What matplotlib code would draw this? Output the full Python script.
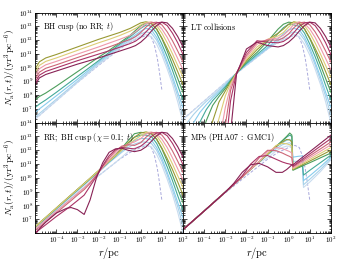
#!/usr/bin/env python3
"""Four-panel plot of N_a(r, t) for the different relaxation models."""
import numpy as np
import matplotlib
matplotlib.use("Agg")
import matplotlib.pyplot as plt
from matplotlib.ticker import LogLocator, NullFormatter

plt.rcParams['mathtext.fontset'] = 'cm'
plt.rcParams['font.family'] = 'DejaVu Serif'

# curve colours, earliest time (pale blue) -> latest time (dark red)
colours = ['#c9dcef', '#a9d2ea', '#88ccee', '#44aa99', '#4c9e5c', '#999933',
           '#ddcc77', '#ee99aa', '#cc6677', '#aa3366', '#882255']
dash_colour = '#a9a9dc'

# initial condition (dashed), log10 r/pc and log10 N_a
lr_init = [-5, -4, -3, -2, -1, -0.5, 0, 0.3, 0.5, 0.65, 0.78, 0.88, 0.95, 1.0]
n_init = [6.25, 7.58, 8.91, 10.15, 11.35, 11.85, 12.2, 12.35, 12.2, 11.6, 10.7, 9.7, 8.9, 8.35]

# panel 1: BH cusp (no RR; t)
lr_bh = [-5, -4.8, -4.5, -4, -3, -2, -1.5, -1, -0.5, -0.25, 0, 0.25, 0.5, 0.75, 1, 1.25, 1.5, 1.75, 2]
bh_curves = [
    [6.25, 6.52, 6.92, 7.58, 8.91, 10.2, 10.8, 11.4, 11.9, 12.1, 12.3, 12.4, 12.25, 11.7, 10.9, 9.9, 8.8, 7.5, 6.0],
    [6.4, 6.66, 7.05, 7.7, 9.0, 10.3, 10.9, 11.5, 12.0, 12.25, 12.45, 12.6, 12.5, 12.0, 11.2, 10.2, 9.1, 7.9, 6.55],
    [6.75, 7.0, 7.35, 7.95, 9.15, 10.4, 11.0, 11.6, 12.12, 12.38, 12.65, 12.85, 12.75, 12.2, 11.4, 10.4, 9.35, 8.2, 7.1],
    [7.1, 7.35, 7.65, 8.2, 9.35, 10.5, 11.1, 11.7, 12.25, 12.55, 12.85, 13.1, 13.0, 12.5, 11.7, 10.8, 9.8, 8.7, 7.65],
    [7.65, 7.9, 8.15, 8.65, 9.7, 10.75, 11.25, 11.8, 12.35, 12.7, 13.05, 13.25, 13.2, 12.8, 12.1, 11.2, 10.2, 9.2, 8.2],
    [9.9, 10.42, 10.7, 10.95, 11.5, 12.05, 12.3, 12.55, 12.85, 13.05, 13.25, 13.33, 13.2, 12.8, 12.15, 11.4, 10.6, 9.7, 8.75],
    [9.66, 10.16, 10.45, 10.7, 11.25, 11.8, 12.05, 12.33, 12.65, 12.85, 13.1, 13.3, 13.3, 13.05, 12.5, 11.8, 11.0, 10.15, 9.3],
    [9.42, 9.92, 10.2, 10.45, 10.98, 11.5, 11.78, 12.05, 12.35, 12.6, 12.9, 13.2, 13.32, 13.2, 12.8, 12.2, 11.45, 10.65, 9.85],
    [9.17, 9.67, 9.95, 10.2, 10.73, 11.25, 11.5, 11.78, 12.05, 12.25, 12.55, 12.95, 13.25, 13.3, 13.1, 12.6, 11.95, 11.2, 10.4],
    [8.95, 9.45, 9.72, 9.98, 10.5, 10.98, 11.22, 11.48, 11.75, 11.92, 12.2, 12.6, 13.0, 13.25, 13.3, 13.05, 12.5, 11.8, 10.95],
    [8.75, 9.25, 9.5, 9.75, 10.25, 10.7, 10.95, 11.2, 11.45, 11.6, 11.85, 12.2, 12.65, 13.05, 13.3, 13.25, 12.85, 12.25, 11.5],
]

# panel 2: LT collisions
lr_lt = [-5, -4.8, -4.5, -4.2, -3.9, -3.6, -3.3, -3.0, -2.75, -2.47, -2, -1.5, -1, -0.5, -0.25, 0,
         0.25, 0.5, 0.75, 1, 1.25, 1.5, 1.75, 2]
lt_curves = [
    [6.23, 6.5, 6.9, 7.3, 7.7, 8.1, 8.5, 8.9, 9.23, 9.6, 10.15, 10.75, 11.35, 11.85, 12.05, 12.2, 12.4, 12.25, 11.7, 10.9, 9.9, 8.8, 7.5, 6.0],
    [5.5, 6.0, 6.6, 7.1, 7.55, 7.95, 8.38, 8.8, 9.18, 9.6, 10.2, 10.8, 11.4, 11.95, 12.2, 12.45, 12.6, 12.5, 12.0, 11.2, 10.2, 9.1, 7.9, 6.55],
    [4.5, 5.0, 6.0, 6.75, 7.3, 7.8, 8.25, 8.7, 9.12, 9.6, 10.25, 10.85, 11.45, 12.1, 12.45, 12.75, 12.85, 12.75, 12.2, 11.4, 10.4, 9.35, 8.2, 7.1],
    [3.0, 3.5, 4.5, 6.05, 6.95, 7.6, 8.1, 8.6, 9.08, 9.6, 10.3, 10.95, 11.6, 12.5, 12.9, 13.15, 13.1, 13.0, 12.5, 11.7, 10.8, 9.8, 8.7, 7.65],
    [2.0, 2.5, 3.5, 4.5, 6.15, 7.25, 7.9, 8.48, 9.02, 9.6, 10.4, 11.1, 11.9, 12.8, 13.15, 13.3, 13.25, 13.2, 12.8, 12.1, 11.2, 10.2, 9.2, 8.2],
    [2.0, 2.0, 2.5, 3.5, 4.5, 6.1, 7.5, 8.3, 8.95, 9.6, 10.5, 11.3, 12.0, 12.5, 12.8, 13.15, 13.33, 13.2, 12.8, 12.15, 11.4, 10.6, 9.7, 8.75],
    [2.0, 2.0, 2.0, 2.5, 3.5, 4.5, 6.3, 7.95, 8.85, 9.6, 10.6, 11.5, 12.05, 12.3, 12.55, 12.95, 13.3, 13.3, 13.05, 12.5, 11.8, 11.0, 10.15, 9.3],
    [2.0, 2.0, 2.0, 2.0, 2.5, 3.5, 4.5, 7.1, 8.65, 9.6, 10.75, 11.7, 12.05, 12.15, 12.35, 12.7, 13.15, 13.32, 13.2, 12.8, 12.2, 11.45, 10.65, 9.85],
    [2.0, 2.0, 2.0, 2.0, 2.0, 2.5, 3.5, 5.8, 8.35, 9.6, 10.9, 11.85, 12.0, 12.0, 12.15, 12.45, 12.9, 13.25, 13.3, 13.1, 12.6, 11.95, 11.2, 10.4],
    [2.0, 2.0, 2.0, 2.0, 2.0, 2.0, 2.5, 4.0, 7.6, 9.6, 11.1, 11.95, 11.85, 11.8, 11.9, 12.15, 12.55, 13.0, 13.25, 13.3, 13.05, 12.5, 11.8, 10.95],
    [2.0, 2.0, 2.0, 2.0, 2.0, 2.0, 2.0, 2.0, 5.3, 9.5, 11.35, 11.85, 11.6, 11.5, 11.6, 11.85, 12.2, 12.65, 13.05, 13.3, 13.25, 12.85, 12.25, 11.5],
]

# panel 3: RR; BH cusp (chi = 0.1; t)
lr_rr = [-5, -4.8, -4.5, -4, -3.5, -3.3, -3, -2.68, -2.4, -2.1, -1.8, -1.5, -1.2, -0.9, -0.6, -0.3, 0,
         0.25, 0.5, 0.75, 1, 1.25, 1.5, 1.75, 2]
rr_curves = [
    [6.25, 6.52, 6.92, 7.58, 8.25, 8.51, 8.91, 9.31, 9.66, 10.03, 10.39, 10.75, 11.11, 11.5, 11.9, 12.15, 12.3, 12.4, 12.25, 11.7, 10.9, 9.9, 8.8, 7.5, 6.0],
    [6.35, 6.62, 7.02, 7.7, 8.38, 8.65, 9.05, 9.48, 9.86, 10.27, 10.68, 11.1, 11.47, 11.85, 12.2, 12.45, 12.6, 12.6, 12.5, 12.0, 11.2, 10.2, 9.1, 7.9, 6.55],
    [6.39, 6.66, 7.06, 7.74, 8.42, 8.69, 9.09, 9.52, 9.9, 10.31, 10.72, 11.14, 11.53, 11.95, 12.35, 12.7, 12.85, 12.85, 12.75, 12.2, 11.4, 10.4, 9.35, 8.2, 7.1],
    [6.42, 6.69, 7.09, 7.77, 8.45, 8.72, 9.12, 9.55, 9.93, 10.34, 10.75, 11.17, 11.58, 12.05, 12.5, 12.95, 13.1, 13.1, 13.0, 12.5, 11.7, 10.8, 9.8, 8.7, 7.65],
    [6.45, 6.72, 7.12, 7.8, 8.48, 8.75, 9.15, 9.58, 9.96, 10.37, 10.78, 11.2, 11.62, 12.15, 12.7, 13.2, 13.3, 13.25, 13.2, 12.8, 12.1, 11.2, 10.2, 9.2, 8.2],
    [6.47, 6.74, 7.14, 7.82, 8.5, 8.77, 9.17, 9.6, 9.98, 10.39, 10.8, 11.22, 11.62, 12.1, 12.55, 12.95, 13.25, 13.33, 13.2, 12.8, 12.15, 11.4, 10.6, 9.7, 8.75],
    [6.45, 6.72, 7.12, 7.8, 8.48, 8.75, 9.15, 9.58, 9.96, 10.37, 10.78, 11.2, 11.6, 12.0, 12.4, 12.75, 13.05, 13.3, 13.3, 13.05, 12.5, 11.8, 11.0, 10.15, 9.3],
    [6.3, 6.55, 6.93, 7.58, 8.22, 8.48, 8.86, 9.28, 9.7, 10.2, 10.75, 11.3, 11.8, 12.2, 12.45, 12.6, 12.85, 13.2, 13.32, 13.2, 12.8, 12.2, 11.45, 10.65, 9.85],
    [6.2, 6.42, 6.8, 7.45, 8.1, 8.35, 8.75, 9.15, 9.6, 10.2, 10.85, 11.45, 11.95, 12.3, 12.4, 12.35, 12.55, 12.95, 13.25, 13.3, 13.1, 12.6, 11.95, 11.2, 10.4],
    [6.05, 6.25, 6.6, 7.2, 7.75, 7.98, 8.35, 8.75, 9.4, 10.1, 10.9, 11.6, 12.05, 12.2, 12.15, 12.1, 12.3, 12.6, 13.0, 13.25, 13.3, 13.05, 12.5, 11.8, 10.95],
    [5.9, 6.3, 6.8, 7.45, 7.8, 7.85, 7.7, 7.35, 8.4, 10.0, 11.1, 11.85, 12.1, 12.15, 12.0, 11.9, 12.0, 12.25, 12.65, 13.05, 13.3, 13.25, 12.85, 12.25, 11.5],
]

# panel 4: MPs (PHA07 : GMC1)
lr_mp = [-5, -4, -3, -2.6, -2.2, -1.8, -1.4, -1, -0.6, -0.3, -0.1, 0.05, 0.15, 0.2, 0.4, 0.65, 0.7, 1, 1.5, 2]
mp_curves = [
    [6.25, 7.6, 8.97, 9.52, 10.07, 10.62, 11.12, 11.45, 11.95, 12.2, 12.3, 12.3, 12.2, 10.9, 10.9, 10.85, 9.3, 9.7, 10.45, 11.3],
    [6.25, 7.6, 8.97, 9.52, 10.07, 10.62, 11.17, 11.65, 12.1, 12.4, 12.5, 12.55, 12.4, 11.2, 11.2, 11.2, 9.5, 9.9, 10.6, 11.4],
    [6.25, 7.6, 8.97, 9.52, 10.07, 10.62, 11.17, 11.72, 12.22, 12.55, 12.72, 12.8, 12.6, 11.5, 11.55, 11.6, 9.8, 10.15, 10.8, 11.5],
    [6.25, 7.6, 8.97, 9.52, 10.07, 10.62, 11.17, 11.72, 12.27, 12.68, 12.95, 13.1, 13.0, 10.6, 10.75, 10.9, 10.2, 10.55, 11.1, 11.65],
    [6.25, 7.6, 8.97, 9.52, 10.07, 10.62, 11.17, 11.72, 12.27, 12.7, 13.0, 13.25, 13.1, 10.55, 10.69, 10.86, 10.9, 11.1, 11.45, 11.8],
    [6.25, 7.6, 8.97, 9.52, 10.07, 10.62, 11.17, 11.72, 12.27, 12.6, 12.78, 12.75, 12.6, 10.6, 10.76, 10.95, 10.99, 11.22, 11.61, 12.0],
    [6.25, 7.6, 8.97, 9.52, 10.07, 10.62, 11.17, 11.75, 12.35, 12.5, 12.47, 12.4, 12.3, 10.65, 10.82, 11.04, 11.08, 11.34, 11.77, 12.2],
    [6.25, 7.6, 8.97, 9.52, 10.07, 10.62, 11.2, 11.9, 12.2, 12.12, 12.0, 11.9, 11.8, 10.72, 10.91, 11.14, 11.19, 11.47, 11.93, 12.4],
    [6.25, 7.6, 8.97, 9.52, 10.07, 10.7, 11.45, 12.0, 11.97, 11.8, 11.65, 11.55, 11.45, 10.8, 11.0, 11.25, 11.3, 11.6, 12.1, 12.6],
    [6.25, 7.6, 8.97, 9.52, 10.15, 11.0, 11.55, 11.62, 11.35, 11.15, 11.05, 11.0, 10.95, 10.85, 11.07, 11.35, 11.4, 11.74, 12.3, 12.85],
    [6.25, 7.6, 8.97, 9.6, 10.4, 10.95, 11.05, 10.8, 10.4, 10.4, 10.6, 10.8, 10.95, 10.95, 11.19, 11.49, 11.55, 11.9, 12.5, 13.1],
]

titles = [r'$\mathrm{BH\ cusp\ (no\ RR;}\ t)$',
          r'$\mathrm{LT\ collisions}$',
          r'$\mathrm{RR;\ BH\ cusp\ (}\chi=0.1;\ t)$',
          r'$\mathrm{MPs\ (PHA07\ :\ GMC1)}$']

xticks = [1e-5, 1e-4, 1e-3, 1e-2, 1e-1, 1e0, 1e1, 1e2]
xticklabels = ['', r'$10^{-4}$', r'$10^{-3}$', r'$10^{-2}$', r'$10^{-1}$', r'$10^{0}$', r'$10^{1}$', r'$10^{2}$']
yticks = [1e6, 1e7, 1e8, 1e9, 1e10, 1e11, 1e12, 1e13, 1e14]
yticklabels = [''] + [r'$10^{%d}$' % k for k in range(7, 15)]

fig = plt.figure(figsize=(3.48, 2.61), dpi=100)
x0, x1, xm = 0.101, 0.951, 0.526
y0, y1, ym = 0.107, 0.952, 0.53
w = xm - x0
h = y1 - ym
axes = [fig.add_axes([x0, ym, w, h]), fig.add_axes([xm, ym, w, h]),
        fig.add_axes([x0, y0, w, ym - y0]), fig.add_axes([xm, y0, w, ym - y0])]

data = [(lr_bh, bh_curves), (lr_lt, lt_curves), (lr_rr, rr_curves), (lr_mp, mp_curves)]

for i, (ax, (lr, curves), title) in enumerate(zip(axes, data, titles)):
    ax.plot(10.0 ** np.asarray(lr_init), 10.0 ** np.asarray(n_init),
            color=dash_colour, lw=0.7, dashes=(3, 1.8))
    xx = 10.0 ** np.asarray(lr)
    for c, yv in zip(colours, curves):
        ax.plot(xx, 10.0 ** np.asarray(yv), color=c, lw=0.8)
    ax.set_xscale('log')
    ax.set_yscale('log')
    ax.set_xlim(1e-5, 1e2)
    ax.set_ylim(1e6, 1e14)
    ax.set_xticks(xticks)
    ax.set_xticklabels(xticklabels)
    ax.set_yticks(yticks)
    ax.set_yticklabels(yticklabels)
    ax.xaxis.set_minor_locator(LogLocator(base=10, subs=np.arange(2, 10), numticks=20))
    ax.yaxis.set_minor_locator(LogLocator(base=10, subs=np.arange(2, 10), numticks=20))
    ax.xaxis.set_minor_formatter(NullFormatter())
    ax.yaxis.set_minor_formatter(NullFormatter())
    ax.tick_params(which='both', direction='in', top=True, right=True,
                   labelsize=5, width=0.5, pad=1.5)
    ax.tick_params(which='major', length=3)
    ax.tick_params(which='minor', length=1.5)
    for s in ax.spines.values():
        s.set_linewidth(0.6)
    if i < 2:
        ax.tick_params(labelbottom=False)
    else:
        ax.set_xlabel(r'$r/\mathrm{pc}$', fontsize=7.5, labelpad=0)
    if i % 2 == 1:
        ax.tick_params(labelleft=False)
    else:
        ax.set_ylabel(r'$N_{\rm a}(r,t)/(\mathrm{yr}^{3}\,\mathrm{pc}^{-6})$',
                      fontsize=6.8, labelpad=1)
    ax.text(0.05, 0.87, title, transform=ax.transAxes, fontsize=5.8,
            va='center', ha='left')

fig.savefig('out.png', dpi=100)
